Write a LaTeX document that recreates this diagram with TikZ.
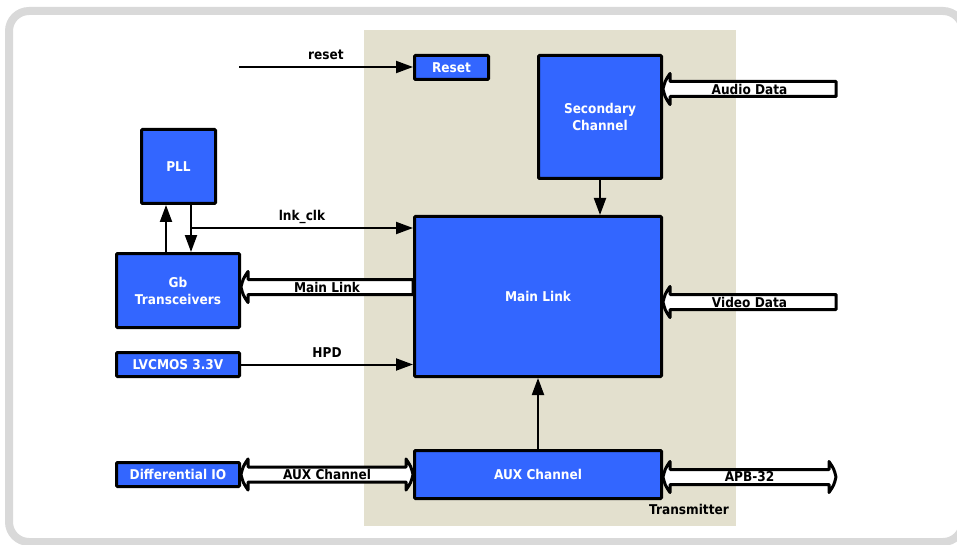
\documentclass[tikz,border=0pt]{standalone}
\usepackage{fontspec}
\setmainfont{DejaVu Sans}[FakeStretch=0.9]
\usetikzlibrary{arrows.meta,calc}

\definecolor{boxblue}{HTML}{3366FF}
\definecolor{txbeige}{HTML}{E3E0CE}
\definecolor{framegray}{HTML}{D9D9D9}

% half sizes of the wide (bus) arrows
\def\fathl{7pt}    % head length
\def\fathw{15.5pt} % head half width
\def\fatbw{7.5pt}  % body half width

\tikzset{
  blk/.style={draw=black, line width=3pt, fill=boxblue, text=white,
    font=\bfseries\fontsize{13.5}{17}\selectfont, align=center,
    inner sep=0pt, rounded corners=1pt},
  lbl/.style={font=\bfseries\fontsize{13.5}{16}\selectfont, text=black, inner sep=1pt},
  sig/.style={line width=2pt, -{Triangle[length=17pt,width=12pt]}},
  fat/.style={draw=black, fill=white, line width=3pt, line join=round},
}

% one-way bus arrow: #1 tail, #2 tip (horizontal), #3 text, #4 label name
\newcommand\fatsingle[4]{%
  \draw[fat] let \p1=(#1), \p2=(#2), \n1={ifthenelse(\x1>\x2,1,-1)} in
    (\p2) .. controls ({\x2+(\n1)*2pt},{\y2+8pt}) .. ({\x2+(\n1)*\fathl},{\y2+\fathw})
    -- ({\x2+(\n1)*\fathl},{\y2+\fatbw})
    -- ({\x1},{\y2+\fatbw}) -- ({\x1},{\y2-\fatbw})
    -- ({\x2+(\n1)*\fathl},{\y2-\fatbw}) -- ({\x2+(\n1)*\fathl},{\y2-\fathw})
    .. controls ({\x2+(\n1)*2pt},{\y2-8pt}) .. cycle;
  \node[lbl] (#4) at ($(#1)!0.5!(#2)$) {#3};
}

% two-way bus arrow: #1 left end, #2 right end, #3 text, #4 label name
\newcommand\fatdouble[4]{%
  \draw[fat] let \p1=(#1), \p2=(#2) in
    (\p1) .. controls ({\x1+2pt},{\y1+8pt}) .. ({\x1+\fathl},{\y1+\fathw})
    -- ({\x1+\fathl},{\y1+\fatbw})
    -- ({\x2-\fathl},{\y1+\fatbw}) -- ({\x2-\fathl},{\y1+\fathw})
    .. controls ({\x2-2pt},{\y1+8pt}) .. (\x2,\y1)
    .. controls ({\x2-2pt},{\y1-8pt}) .. ({\x2-\fathl},{\y1-\fathw})
    -- ({\x2-\fathl},{\y1-\fatbw})
    -- ({\x1+\fathl},{\y1-\fatbw}) -- ({\x1+\fathl},{\y1-\fathw})
    .. controls ({\x1+2pt},{\y1-8pt}) .. cycle;
  \node[lbl] (#4) at ($(#1)!0.5!(#2)$) {#3};
}

\begin{document}
\begin{tikzpicture}[x=1pt, y=-1pt]
  \useasboundingbox (0,0) rectangle (957,545);

  % outer frame (runs past the right and bottom page edges)
  \draw[line width=8pt, draw=framegray, rounded corners=20pt] (9,11) rectangle (963,542);

  % transmitter area
  \node[fill=txbeige, draw=none, inner sep=0pt, minimum width=372pt, minimum height=496pt]
    (tx) at (550,278) {};
  \node[lbl, anchor=base east, inner sep=0pt] (txlbl) at (729,514.5) {Transmitter};

  % blocks
  \node[blk, minimum width=74pt,  minimum height=24pt]  (rst) at (451.5,67.5) {Reset};
  \node[blk, minimum width=74pt,  minimum height=74pt]  (pll) at (178.5,166.5) {PLL};
  \node[blk, minimum width=123pt, minimum height=74pt]  (gb)  at (178,290.5) {Gb\\Transceivers};
  \node[blk, minimum width=123pt, minimum height=123pt] (sec) at (600,117) {Secondary\\Channel};
  \node[blk, minimum width=247pt, minimum height=160pt] (ml)  at (538,296.5) {Main Link};
  \node[blk, minimum width=123pt, minimum height=24pt]  (lvc) at (178,364.5) {LVCMOS 3.3V};
  \node[blk, minimum width=123pt, minimum height=24pt]  (dio) at (178,474.5) {Differential IO};
  \node[blk, minimum width=247pt, minimum height=48pt]  (aux) at (538,474.5) {AUX Channel};

  % free ends and taps
  \coordinate (rstin)   at (239,67);
  \coordinate (clkjoin) at (191,228);
  \coordinate (pllup)   at (166,228);
  \coordinate (mlrow)   at (300,287);
  \coordinate (audioin) at (836,89);
  \coordinate (videoin) at (836,302);
  \coordinate (apbout)  at (836,477);

  % single signals
  \draw[sig] (rstin) -- (rst.west |- rstin)
    node[lbl, midway, anchor=base, yshift=7pt, inner sep=0pt] (rstlbl) {reset};
  \draw[sig] (gb.north -| pllup) -- (pll.south -| pllup);
  \draw[line width=2pt] (pll.south -| clkjoin) -- (clkjoin);
  \draw[sig] (clkjoin) -- (gb.north -| clkjoin);
  \draw[sig] (clkjoin) -- (ml.west |- clkjoin)
    node[lbl, midway, anchor=base, yshift=7pt, inner sep=0pt] (clklbl) {lnk\_clk};
  \draw[sig] (lvc.east) -- (ml.west |- lvc.east)
    node[lbl, midway, anchor=base, yshift=7pt, inner sep=0pt] (hpdlbl) {HPD};
  \draw[sig] (sec.south) -- (sec.south |- ml.north);
  \draw[sig] (aux.north) -- (ml.south);

  % buses
  \fatsingle{ml.west |- mlrow}{gb.east |- mlrow}{Main Link}{mllbl}
  \fatsingle{audioin}{sec.east |- audioin}{Audio Data}{audlbl}
  \fatsingle{videoin}{ml.east |- videoin}{Video Data}{vidlbl}
  \fatdouble{dio.east}{aux.west |- dio.east}{AUX Channel}{auxlbl}
  \fatdouble{aux.east |- apbout}{apbout}{APB-32}{apblbl}
\end{tikzpicture}
\end{document}
